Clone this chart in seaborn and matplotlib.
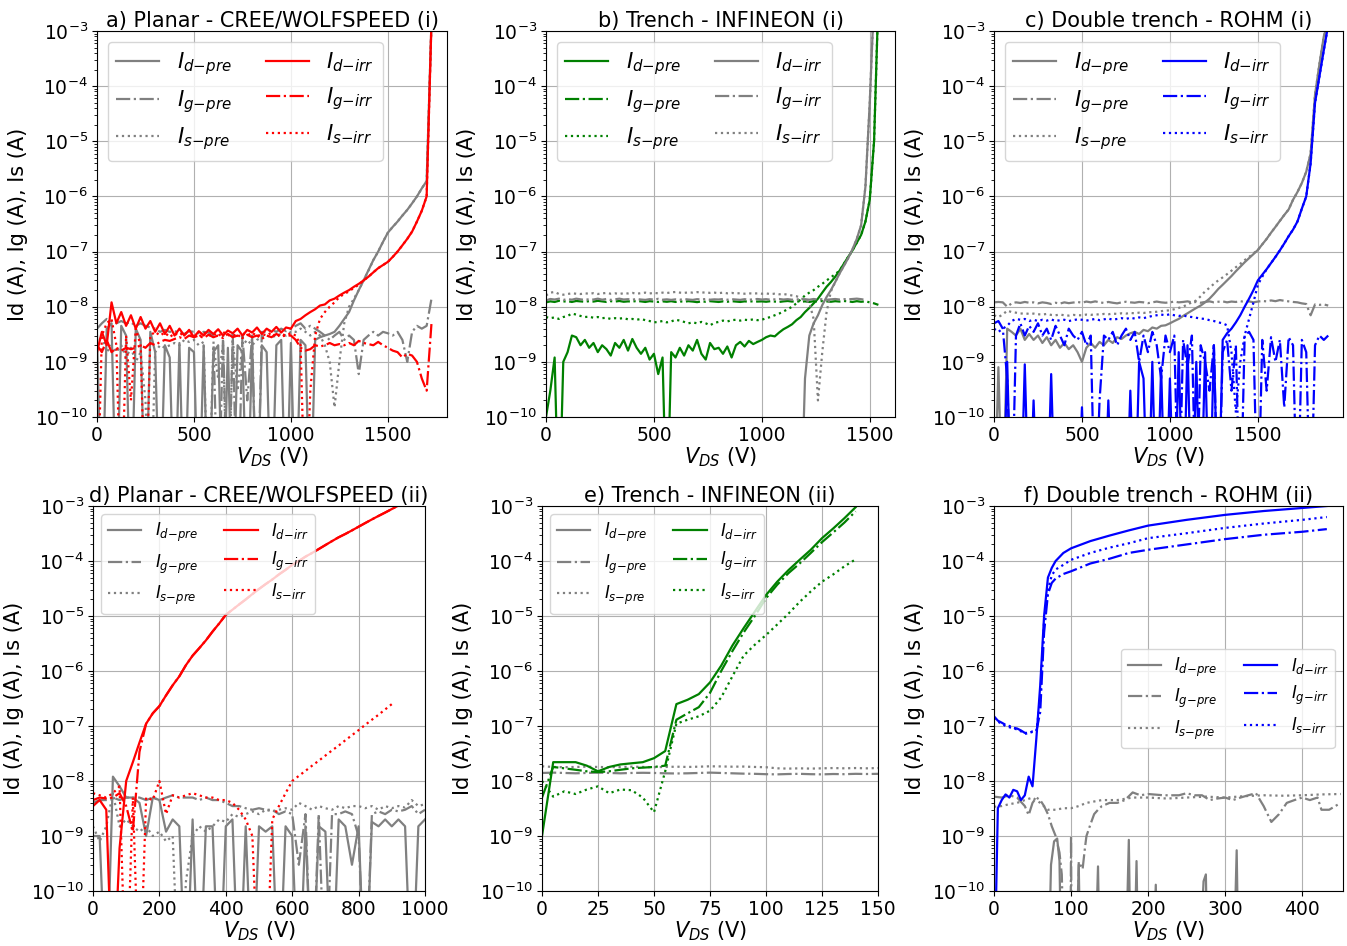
import numpy as np
import matplotlib
matplotlib.use("Agg")
import matplotlib.pyplot as plt
from matplotlib.ticker import FixedLocator, LogLocator, NullFormatter
import seaborn as sns

plt.rcParams["font.family"] = ["DejaVu Sans"]
plt.rcParams["mathtext.fontset"] = "dejavusans"

GRAY, RED, GREEN, BLUE = "#808080", "#ff0000", "#008000", "#0000ff"
LW = 1.6
OFF = 1e-12  # reading below the instrument floor
DECADES = [1e-10, 1e-9, 1e-8, 1e-7, 1e-6, 1e-5, 1e-4, 1e-3]

# ---------------- a) Planar - CREE/WOLFSPEED (i) ----------------
VA = np.arange(0, 1726, 25)
A_ID_PRE = [
    3e-9, OFF, 4e-9, 5e-9, OFF, 4.5e-9, 3e-9, OFF, 4e-9, 2.5e-9,
    OFF, 3.5e-9, 1.5e-9, OFF, 2e-9, 1.2e-9, OFF, 2.2e-9, OFF, 1.8e-9,
    1.5e-9, OFF, 2e-9, OFF, 1.5e-9, 2e-9, OFF, 1.8e-9, OFF, 2e-9,
    1.5e-9, OFF, 2.2e-9, OFF, 2e-9, 1.5e-9, OFF, 2e-9, 2.5e-9, OFF,
    2.2e-9, OFF, 2.5e-9, 2e-9, OFF, 2.5e-9, 2.8e-9, 3e-9, 3.2e-9, 3.5e-9,
    4.5e-9, 6e-9, 8e-9, 1.3e-8, 2e-8, 3e-8, 4.6e-8, 7e-8, 1e-7, 1.5e-7,
    2.2e-7, 2.8e-7, 3.5e-7, 4.5e-7, 5.7e-7, 7.5e-7, 1e-6, 1.4e-6, 1.9e-6, 1.5e-3]
A_IG_PRE = [
    4e-9, 5e-9, 6e-9, 5.5e-9, 5e-9, 5.5e-9, 5e-9, 5.2e-9, 4.5e-9, 5e-9,
    4.5e-9, 4.2e-9, 4e-9, 3.5e-9, 3.8e-9, 3.5e-9, 3.6e-9, 3.4e-9, 3.2e-9, 3.6e-9,
    3.5e-9, 3.3e-9, 3.5e-9, 3.4e-9, 3e-9, OFF, 3e-9, OFF, 3.2e-9, OFF,
    3e-9, 2e-10, 3e-9, OFF, 3.5e-9, 3.4e-9, 3.8e-9, 3.5e-9, 4e-9, 3.6e-9,
    4e-9, 4.5e-9, 5e-9, 4e-9, 4.5e-9, 4e-9, 3.5e-9, 3e-9, 2.5e-9, 3e-9,
    3.5e-9, 2.5e-9, 3e-9, 2.5e-9, 6e-10, 2.5e-9, 3e-9, 3.5e-9, 3e-9, 3.5e-9,
    3.3e-9, 3e-9, 3.5e-9, 2.5e-9, 1e-9, 3.5e-9, 4.5e-9, 4e-9, 4.5e-9, 1.4e-8]
A_IS_PRE = [
    2e-9, 3e-9, 1.5e-9, 2e-9, 1.5e-9, 2e-9, 1.2e-9, 1.8e-9, 1e-9, 1.5e-9,
    2e-10, OFF, 1.5e-9, 2e-9, 1.8e-9, 2e-9, 2.2e-9, 2e-9, 2.5e-9, 2.3e-9,
    2.5e-9, 2e-9, 2.3e-9, OFF, 2e-9, 5e-10, 2e-9, OFF, 2.5e-9, 3e-10,
    2e-9, 2.5e-9, 2e-9, 2.5e-9, 2.8e-9, 3e-9, 2.8e-9, 3e-9, 3.2e-9, 3e-9,
    3.5e-9, 3.5e-9, 4e-9, 3.5e-9, 3e-9, 3.5e-9, 3e-9, 2e-9, 1e-9, 1.5e-10,
    1e-9, 5e-9, 1e-8, 1.4e-8, 2e-8, 3e-8, 4.5e-8, 7e-8, 1e-7, 1.5e-7,
    2.2e-7, 2.8e-7, 3.5e-7, 4.5e-7, 5.7e-7, 7.5e-7, 1e-6, 1.4e-6, 1.9e-6, 1.5e-3]
A_ID_IRR = [
    1.5e-9, 3.5e-9, 2e-9, 1.2e-8, 5e-9, 8e-9, 4.5e-9, 7e-9, 4e-9, 6.5e-9,
    4e-9, 5.5e-9, 3.5e-9, 5e-9, 3.2e-9, 4.5e-9, 3e-9, 4e-9, 3e-9, 3.8e-9,
    2.8e-9, 3.6e-9, 3e-9, 3.8e-9, 3.2e-9, 3.9e-9, 3e-9, 3.7e-9, 3.3e-9, 4e-9,
    3e-9, 3.8e-9, 3.4e-9, 4.2e-9, 3.2e-9, 4e-9, 3.5e-9, 4.3e-9, 3.4e-9, 4.2e-9,
    4e-9, 5.5e-9, 6e-9, 7e-9, 8e-9, 9e-9, 1.05e-8, 1.1e-8, 1.3e-8, 1.4e-8,
    1.6e-8, 1.8e-8, 2e-8, 2.3e-8, 2.6e-8, 3e-8, 3.5e-8, 4.2e-8, 5e-8, 5.7e-8,
    6.5e-8, 8e-8, 1e-7, 1.3e-7, 1.7e-7, 2.3e-7, 3.5e-7, 5.5e-7, 1e-6, 1.5e-3]
A_IG_IRR = [
    2e-9, 1.5e-9, 2.5e-9, 1.5e-9, 1.8e-9, 1.6e-9, 1.8e-9, 1.7e-9, 1.8e-9, 2e-9,
    1.8e-9, 2.2e-9, 2e-9, 2.3e-9, 2.5e-9, 2.4e-9, 2.6e-9, 2.8e-9, 2.6e-9, 3e-9,
    2.8e-9, 3e-9, 2.7e-9, 3.1e-9, 2.8e-9, 3e-9, 2.7e-9, 3.2e-9, 2.8e-9, 3e-9,
    2.7e-9, 3.1e-9, 2.8e-9, 3e-9, 2.6e-9, 3e-9, 2.8e-9, 3.2e-9, 2.9e-9, 3e-9,
    3e-9, 2.5e-9, 1.8e-9, 1.6e-9, 1.7e-9, 2e-9, 1.9e-9, 2e-9, 2.2e-9, 2e-9,
    2.1e-9, 2e-9, 2.2e-9, 2e-9, 2.4e-9, 2.2e-9, 2.1e-9, 2e-9, 2.3e-9, 2e-9,
    1.8e-9, 1.6e-9, 1.5e-9, 1.2e-9, 1.4e-9, 1.3e-9, 1e-9, 5e-10, 3e-10, 5e-9]
A_IS_IRR = [
    OFF, 3e-9, 5e-9, 6e-9, 2e-9, OFF, 3e-9, 2e-10, 4e-9, 2e-9,
    OFF, 3e-9, 3.5e-9, 3e-9, 3.4e-9, 2.8e-9, 3.3e-9, 3e-9, 3.5e-9, 2.9e-9,
    3.2e-9, 2.8e-9, 3.4e-9, 3e-9, 3.3e-9, 2.9e-9, 3.5e-9, 3e-9, 3.2e-9, 2.8e-9,
    3.3e-9, 3e-9, 3.4e-9, 2.9e-9, 3.2e-9, 3e-9, 3.4e-9, 2.8e-9, 3.2e-9, 3e-9,
    3.3e-9, 3e-9, 2e-9, OFF, 3e-10, 3e-9, 6e-9, 8e-9, 1e-8, 1.2e-8,
    1.5e-8, 1.7e-8, 1.9e-8, 2.2e-8, 2.5e-8, 3e-8, 3.5e-8, 4.2e-8, 5e-8, 5.7e-8,
    6.5e-8, 8e-8, 1e-7, 1.3e-7, 1.7e-7, 2.3e-7, 3.5e-7, 5.5e-7, 1e-6, 1.5e-3]

# ---------------- b) Trench - INFINEON (i) ----------------
VB = np.arange(0, 1541, 20)
B_ID_PRE = [
    1e-10, 3e-10, 1.2e-9, OFF, 1e-9, 1.5e-9, 3e-9, 2.8e-9, 2e-9, 2.5e-9,
    1.8e-9, 2.2e-9, 1.5e-9, 2e-9, 1.7e-9, 1.3e-9, 2.2e-9, 1.8e-9, 2.5e-9, 1.6e-9,
    2.6e-9, 1.8e-9, 1.4e-9, 1.8e-9, 1.1e-9, 1.4e-9, 6e-10, 1.2e-9, OFF, 1.5e-9,
    1.2e-9, 1.8e-9, 1.3e-9, 2e-9, 1.6e-9, 2.5e-9, 1.4e-9, 1.1e-9, 2.2e-9, 1.7e-9,
    1.8e-9, 1.4e-9, 1.9e-9, 1.2e-9, 2e-9, 2.3e-9, 1.9e-9, 2.4e-9, 2.1e-9, 2.3e-9,
    2.5e-9, 2.8e-9, 3e-9, 2.9e-9, 3.4e-9, 3.9e-9, 4.3e-9, 4.8e-9, 5.7e-9, 6.5e-9,
    8e-9, 9.5e-9, 1.15e-8, 1.4e-8, 1.8e-8, 2.3e-8, 2.8e-8, 3.5e-8, 4.5e-8, 6e-8,
    8e-8, 1.05e-7, 1.45e-7, 2e-7, 3.5e-7, 8.7e-7, 1e-5, 4e-3]
B_IG_PRE = [
    1.2e-8, 1.25e-8, 1.22e-8, 1.28e-8, 1.24e-8, 1.26e-8, 1.22e-8, 1.27e-8, 1.25e-8, 1.23e-8,
    1.26e-8, 1.24e-8, 1.28e-8, 1.25e-8, 1.22e-8, 1.26e-8, 1.24e-8, 1.27e-8, 1.23e-8, 1.25e-8,
    1.24e-8, 1.27e-8, 1.25e-8, 1.22e-8, 1.26e-8, 1.24e-8, 1.22e-8, 1.25e-8, 1.23e-8, 1.26e-8,
    1.22e-8, 1.25e-8, 1.23e-8, 1.26e-8, 1.24e-8, 1.21e-8, 1.25e-8, 1.23e-8, 1.26e-8, 1.24e-8,
    1.22e-8, 1.25e-8, 1.23e-8, 1.26e-8, 1.24e-8, 1.22e-8, 1.25e-8, 1.23e-8, 1.26e-8, 1.24e-8,
    1.25e-8, 1.23e-8, 1.26e-8, 1.24e-8, 1.22e-8, 1.25e-8, 1.27e-8, 1.24e-8, 1.26e-8, 1.23e-8,
    1.25e-8, 1.22e-8, 1.26e-8, 1.24e-8, 1.27e-8, 1.25e-8, 1.23e-8, 1.26e-8, 1.24e-8, 1.27e-8,
    1.25e-8, 1.22e-8, 1.26e-8, 1.23e-8, 1.25e-8, 1.2e-8, 1.15e-8, 1.08e-8]
B_IS_PRE = [
    6.5e-9, 6.2e-9, 6.4e-9, 6e-9, 6.5e-9, 6.8e-9, 7.5e-9, 7.2e-9, 6.8e-9, 6.5e-9,
    6.6e-9, 6.3e-9, 6.5e-9, 6.2e-9, 6.3e-9, 6e-9, 6.2e-9, 6.1e-9, 6.2e-9, 5.9e-9,
    6e-9, 5.8e-9, 6e-9, 5.7e-9, 5.5e-9, 5.2e-9, 5.3e-9, 5.5e-9, 5.2e-9, 5.4e-9,
    5.8e-9, 5.6e-9, 5.3e-9, 5e-9, 5.2e-9, 5e-9, 5.3e-9, 5e-9, 4.6e-9, 5.1e-9,
    5.3e-9, 5.6e-9, 5.4e-9, 5.7e-9, 5.8e-9, 5.6e-9, 5.8e-9, 5.7e-9, 5.9e-9, 5.7e-9,
    5.8e-9, 6.2e-9, 6.5e-9, 7e-9, 7.5e-9, 8.2e-9, 9e-9, 1e-8, 1.15e-8, 1.35e-8,
    1.6e-8, 1.8e-8, 2e-8, 2.3e-8, 2.6e-8, 3e-8, 3.4e-8, 3.9e-8, 4.5e-8, 6e-8,
    8e-8, 1.05e-7, 1.45e-7, 2e-7, 3.5e-7, 8.7e-7, 1e-5, 4e-3]
B_ID_IRR_V = [0, 1180, 1200, 1220, 1240, 1260, 1280, 1300, 1320, 1340,
              1360, 1380, 1400, 1420, 1440, 1460, 1480, 1500, 1520]
B_ID_IRR = [OFF, OFF, 5e-10, 3e-9, 5e-9, 7e-9, 1.07e-8, 1.5e-8, 2e-8, 2.8e-8,
            4e-8, 5.5e-8, 7.6e-8, 1.1e-7, 1.7e-7, 3e-7, 1.5e-6, 5e-5, 4e-3]
B_IG_IRR = [
    1.3e-8, 1.38e-8, 1.35e-8, 1.4e-8, 1.33e-8, 1.37e-8, 1.34e-8, 1.4e-8, 1.36e-8, 1.33e-8,
    1.37e-8, 1.35e-8, 1.4e-8, 1.34e-8, 1.38e-8, 1.33e-8, 1.36e-8, 1.4e-8, 1.35e-8, 1.37e-8,
    1.34e-8, 1.38e-8, 1.35e-8, 1.33e-8, 1.37e-8, 1.35e-8, 1.39e-8, 1.34e-8, 1.36e-8, 1.33e-8,
    1.36e-8, 1.34e-8, 1.38e-8, 1.35e-8, 1.33e-8, 1.37e-8, 1.35e-8, 1.38e-8, 1.34e-8, 1.36e-8,
    1.35e-8, 1.38e-8, 1.34e-8, 1.37e-8, 1.35e-8, 1.33e-8, 1.37e-8, 1.34e-8, 1.36e-8, 1.38e-8,
    1.35e-8, 1.37e-8, 1.34e-8, 1.36e-8, 1.38e-8, 1.35e-8, 1.37e-8, 1.34e-8, 1.36e-8, 1.35e-8,
    1.37e-8, 1.34e-8, 1.38e-8, 1.35e-8, 1.37e-8, 1.34e-8, 1.36e-8, 1.38e-8, 1.35e-8, 1.37e-8,
    1.36e-8, 1.38e-8, 1.4e-8, 1.37e-8, 1.33e-8]
B_IS_IRR = [
    1.6e-8, 1.8e-8, 1.85e-8, 1.7e-8, 1.65e-8, 1.7e-8, 1.75e-8, 1.72e-8, 1.7e-8, 1.75e-8,
    1.72e-8, 1.76e-8, 1.7e-8, 1.74e-8, 1.78e-8, 1.72e-8, 1.75e-8, 1.7e-8, 1.76e-8, 1.74e-8,
    1.78e-8, 1.72e-8, 1.76e-8, 1.8e-8, 1.74e-8, 1.78e-8, 1.75e-8, 1.8e-8, 1.77e-8, 1.82e-8,
    1.85e-8, 1.8e-8, 1.78e-8, 1.82e-8, 1.8e-8, 1.84e-8, 1.8e-8, 1.82e-8, 1.78e-8, 1.8e-8,
    1.76e-8, 1.8e-8, 1.75e-8, 1.78e-8, 1.74e-8, 1.76e-8, 1.72e-8, 1.75e-8, 1.73e-8, 1.75e-8,
    1.72e-8, 1.74e-8, 1.7e-8, 1.72e-8, 1.68e-8, 1.7e-8, 1.65e-8, 1.6e-8, 1.55e-8, 1.45e-8,
    1.3e-8, 1.2e-8, 6e-9, 2e-10, 1.5e-9, 8e-9, 1.9e-8, 2.8e-8, 4e-8, 5.5e-8,
    7.6e-8, 1.1e-7, 1.7e-7, 3e-7, 1.5e-6, 5e-5, 4e-3]

# ---------------- c) Double trench - ROHM (i) ----------------
VC = np.arange(0, 1901, 25)
C_ID_PRE = [
    OFF, 8e-10, OFF, 4e-9, 3.5e-9, 3e-9, 4e-9, 2.5e-9, 3.2e-9, 2.5e-9,
    3e-9, 2.2e-9, 2.8e-9, 2e-9, 2.5e-9, 1.8e-9, 2.2e-9, 1.7e-9, 2e-9, 1.5e-9,
    1e-9, 1.8e-9, 2.2e-9, 1.8e-9, 2.3e-9, 2e-9, 2.5e-9, 2.2e-9, 2.8e-9, 2.6e-9,
    3e-9, 3.3e-9, 3.5e-9, 3.2e-9, 3.8e-9, 3.6e-9, 4.2e-9, 4e-9, 4.5e-9, 4.6e-9,
    5e-9, 5.5e-9, 6e-9, 6.8e-9, 7.6e-9, 8.5e-9, 9.5e-9, 1.05e-8, 1.2e-8, 1.4e-8,
    1.7e-8, 2.1e-8, 2.5e-8, 3e-8, 3.6e-8, 4.4e-8, 5.3e-8, 6.4e-8, 7.6e-8, 9e-8,
    1.07e-7, 1.35e-7, 1.7e-7, 2.2e-7, 2.8e-7, 3.6e-7, 4.6e-7, 5.8e-7, 8.7e-7, 1.2e-6,
    1.75e-6, 2.8e-6, 6e-6, 7e-5, 2.5e-4, 8e-4, 1.5e-3]
C_IG_PRE = [
    1.2e-8, 1.22e-8, 1.2e-8, 1e-8, 1.15e-8, 1.2e-8, 1.17e-8, 1.22e-8, 1.18e-8, 1.2e-8,
    1.15e-8, 1.2e-8, 1.17e-8, 1.12e-8, 1.18e-8, 1.14e-8, 1.2e-8, 1.16e-8, 1.19e-8, 1.22e-8,
    1.18e-8, 1.24e-8, 1.2e-8, 1.25e-8, 1.2e-8, 1.17e-8, 1.22e-8, 1.18e-8, 1.15e-8, 1.2e-8,
    1.23e-8, 1.2e-8, 1.18e-8, 1.22e-8, 1.2e-8, 1.16e-8, 1.2e-8, 1.24e-8, 1.2e-8, 1.18e-8,
    1.2e-8, 1.24e-8, 1.2e-8, 1.22e-8, 1.25e-8, 1.2e-8, 1.22e-8, 1.18e-8, 1.22e-8, 1.25e-8,
    1.2e-8, 1.23e-8, 1.25e-8, 1.2e-8, 1.24e-8, 1.22e-8, 1.26e-8, 1.22e-8, 1.25e-8, 1.2e-8,
    1.24e-8, 1.27e-8, 1.25e-8, 1.3e-8, 1.26e-8, 1.32e-8, 1.28e-8, 1.25e-8, 1.22e-8, 1.2e-8,
    1.15e-8, 1.12e-8, 7e-9, 1.1e-8, 1.08e-8, 1.1e-8, 1.05e-8]
C_IS_PRE = [
    7e-9, 6.5e-9, 7.2e-9, 8.5e-9, 8e-9, 7.8e-9, 7.5e-9, 7.6e-9, 7.4e-9, 7.5e-9,
    7.3e-9, 7.2e-9, 7.4e-9, 7.1e-9, 7e-9, 7.2e-9, 7e-9, 6.9e-9, 7.1e-9, 7e-9,
    7e-9, 7.2e-9, 7.1e-9, 7.3e-9, 7.2e-9, 7.4e-9, 7.3e-9, 7.5e-9, 7.4e-9, 7.6e-9,
    7.5e-9, 7.7e-9, 7.6e-9, 7.8e-9, 7.7e-9, 7.9e-9, 8e-9, 8.1e-9, 8.3e-9, 8.5e-9,
    8.6e-9, 9e-9, 9.5e-9, 1e-8, 1.1e-8, 1.2e-8, 1.3e-8, 1.55e-8, 1.9e-8, 2.2e-8,
    2.6e-8, 3e-8, 3.4e-8, 3.9e-8, 4.5e-8, 5.2e-8, 6e-8, 7e-8, 8e-8, 9.3e-8,
    1.07e-7, 1.35e-7, 1.7e-7, 2.2e-7, 2.8e-7, 3.6e-7, 4.6e-7, 5.8e-7, 8.7e-7, 1.2e-6,
    1.75e-6, 2.8e-6, 6e-6, 7e-5, 2.5e-4, 8e-4, 1.5e-3]
C_ID_IRR = [
    OFF, OFF, OFF, 1e-9, OFF, OFF, OFF, 9e-10, OFF, 2e-10,
    OFF, OFF, OFF, 6e-10, OFF, OFF, OFF, OFF, OFF, OFF,
    1.5e-10, OFF, OFF, OFF, OFF, OFF, 2e-10, OFF, OFF, OFF,
    OFF, 3e-10, OFF, 1e-9, 5e-10, OFF, 1e-9, OFF, 8e-10, OFF,
    5e-10, OFF, 1.5e-9, OFF, 2e-9, OFF, 1e-9, OFF, 1.5e-9, OFF,
    2e-9, OFF, 2.5e-9, 3.3e-9, 4e-9, 5.2e-9, 7e-9, 1e-8, 1.4e-8, 2e-8,
    3e-8, 3.8e-8, 4.8e-8, 6.2e-8, 8e-8, 1.05e-7, 1.4e-7, 1.9e-7, 2.5e-7, 3.5e-7,
    6e-7, 1e-6, 4e-6, 5e-5, 1.5e-4, 4.5e-4, 1.3e-3]
C_IG_IRR = [
    5e-9, 5.5e-9, 4e-9, 5e-10, OFF, 3e-9, 5e-9, 3e-9, 4.5e-9, 3.5e-9,
    5e-9, 3e-9, 4e-9, 2.5e-9, 4.5e-9, 3e-9, 2e-9, 4e-9, 3e-9, 2.5e-9,
    3.5e-9, 2e-9, 3e-9, OFF, 2e-10, 3e-9, 2.5e-9, 3.5e-9, 2e-9, 3e-9,
    4e-9, 2.5e-9, 3.5e-9, 1e-9, 3e-9, 1.5e-9, 3.5e-9, 2e-9, 5e-10, 3e-9,
    1.5e-9, 3e-9, OFF, 2.5e-9, 8e-10, 3e-9, OFF, 2e-9, 1e-9, 3e-10,
    2e-9, OFF, 1.5e-9, 2.5e-9, 3e-10, 2e-9, OFF, 3e-9, 3.5e-9, 2.5e-9,
    OFF, 2.5e-9, 3e-10, 2.8e-9, 1e-9, 2.5e-9, 1.5e-10, 2.8e-9, 2e-9, OFF,
    2.5e-9, 1.5e-9, OFF, 2e-9, 3e-9, 2.5e-9, 3e-9]
C_IS_IRR = [
    4e-9, 3.5e-9, 4e-9, 4.5e-9, 5.5e-9, 6e-9, 5.8e-9, 6e-9, 5.5e-9, 5.8e-9,
    5.5e-9, 5.8e-9, 5.6e-9, 5.9e-9, 5.5e-9, 5.7e-9, 5.8e-9, 5.5e-9, 5.7e-9, 5.9e-9,
    5.8e-9, 5.6e-9, 5.8e-9, 6e-9, 5.7e-9, 5.9e-9, 6.1e-9, 5.8e-9, 6e-9, 6.2e-9,
    6e-9, 6.3e-9, 6.1e-9, 6.4e-9, 6.2e-9, 6.5e-9, 6.8e-9, 7e-9, 7.2e-9, 7e-9,
    7.3e-9, 7e-9, 6.8e-9, 7e-9, 6.6e-9, 6.5e-9, 6.3e-9, 6.1e-9, 6e-9, 5.7e-9,
    5.5e-9, 5.2e-9, 5e-9, 4.6e-9, 1.5e-9, 1.2e-10, 1e-9, 3e-9, 6e-9, 1.2e-8,
    2.5e-8, 3.5e-8, 4.8e-8, 6.2e-8, 8e-8, 1.05e-7, 1.4e-7, 1.9e-7, 2.5e-7, 3.5e-7,
    6e-7, 1e-6, 4e-6, 5e-5, 1.5e-4, 4.5e-4, 1.3e-3]

# ---------------- d) Planar - CREE/WOLFSPEED (ii) ----------------
VD = np.arange(0, 1001, 20)
D_ID_PRE = [
    1e-9, 1e-9, OFF, 1.2e-8, 8e-9, 5e-9, 5e-9, 4e-9, 1e-9, 5e-9,
    4.5e-9, 1.2e-9, 2e-9, 1.5e-9, OFF, 2e-9, OFF, 1.5e-9, 1.5e-9, OFF,
    1.5e-9, 2e-9, OFF, 1.5e-9, OFF, 1.5e-9, 1.2e-9, 1.5e-9, OFF, 1.5e-9,
    1e-9, OFF, 1.5e-9, OFF, 1.5e-9, 1.2e-9, OFF, 2e-9, 1.5e-9, 3e-10,
    1.5e-9, OFF, 1.8e-9, 1.5e-9, 2e-9, 1.5e-9, 2e-9, 1.5e-9, OFF, 1.5e-9,
    2e-9]
D_IG_PRE = [
    4e-9, 4.5e-9, 4.5e-9, 5e-9, 4.5e-9, 5e-9, 5e-9, 5e-9, 4.5e-9, 5e-9,
    4.5e-9, 5e-9, 5.5e-9, 5e-9, 5e-9, 5e-9, 4.5e-9, 5e-9, 4.5e-9, 4.5e-9,
    4e-9, 3.5e-9, 3.5e-9, 3.2e-9, 3e-9, 3.2e-9, 3e-9, 3e-9, 2.5e-9, 2.8e-9,
    2.5e-9, 3e-10, 2.5e-9, OFF, 2.5e-9, OFF, 2.5e-9, 2.5e-9, 2.8e-9, 2.5e-9,
    1e-9, OFF, 2.5e-9, 2.8e-9, 2.5e-9, 3e-9, 2.8e-9, 3e-9, 3.5e-9, 2.5e-9,
    3e-9]
D_IS_PRE = [
    1.5e-9, 8e-10, 1.5e-9, 6e-9, 1.5e-9, 2e-9, 1.5e-9, 1.2e-9, 1.5e-9, 1e-9,
    1.2e-9, 8e-10, 1e-9, OFF, 1.5e-10, 1e-9, 1.5e-9, 1.2e-9, 1.5e-9, 2e-9,
    1.8e-9, 2.5e-9, 2.2e-9, 2.5e-9, 2.8e-9, 2.5e-9, 3e-9, 2.8e-9, 3e-9, 3.2e-9,
    3e-9, 4e-9, 3.5e-9, 3e-9, 3.5e-9, 3.2e-9, 3e-9, 3.5e-9, 3.2e-9, 3.5e-9,
    3.5e-9, 3.2e-9, 3.5e-9, 3e-9, 3.5e-9, 3.2e-9, 3.5e-9, 3.3e-9, 4.5e-9, 3.5e-9,
    3.8e-9]
D_ID_IRR = [
    3.5e-9, 4.5e-9, 3e-9, OFF, 6e-10, 1e-8, 2.2e-8, 5e-8, 1.1e-7, 1.7e-7,
    2.3e-7, 3.6e-7, 5.5e-7, 8e-7, 1.28e-6, 1.9e-6, 2.6e-6, 3.6e-6, 5.2e-6, 7.3e-6,
    1.05e-5, 1.3e-5, 1.62e-5, 2e-5, 2.5e-5, 3.1e-5, 3.8e-5, 4.6e-5, 5.7e-5, 6.9e-5,
    8.5e-5, 1e-4, 1.2e-4, 1.4e-4, 1.65e-4, 1.95e-4, 2.3e-4, 2.7e-4, 3.1e-4, 3.6e-4,
    4.2e-4, 4.9e-4, 5.7e-4, 6.6e-4, 7.6e-4, 8.8e-4, 1.02e-3]
D_IG_IRR = [
    4.5e-9, 5e-9, 4.8e-9, 5e-9, 6e-9, 3.5e-9, 1.2e-9, 3.4e-8, 1.1e-7, 1.7e-7,
    2.3e-7, 3.6e-7, 5.5e-7, 8e-7, 1.28e-6, 1.9e-6, 2.6e-6, 3.6e-6, 5.2e-6, 7.3e-6,
    1.05e-5, 1.3e-5, 1.62e-5, 2e-5, 2.5e-5, 3.1e-5, 3.8e-5, 4.6e-5, 5.7e-5, 6.9e-5,
    8.5e-5, 1e-4, 1.2e-4, 1.4e-4, 1.65e-4, 1.95e-4, 2.3e-4, 2.7e-4, 3.1e-4, 3.6e-4,
    4.2e-4, 4.9e-4, 5.7e-4, 6.6e-4, 7.6e-4, 8.8e-4, 1.02e-3]
D_IS_IRR = [
    6e-9, 5.5e-9, 5e-9, 6e-9, 8e-9, OFF, 5e-9, OFF, 5e-9, 4.5e-9,
    1e-8, 2.5e-9, 5.5e-9, 5e-9, 5.5e-9, 6e-9, 5.5e-9, 5e-9, 5e-9, 4.5e-9,
    4.5e-9, 4e-9, 3e-9, 2e-9, 1e-9, OFF, OFF, 2e-9, 3.5e-9, 6e-9,
    1e-8, 1.24e-8, 1.53e-8, 1.9e-8, 2.34e-8, 2.9e-8, 3.6e-8, 4.4e-8, 5.5e-8, 6.8e-8,
    8.4e-8, 1.05e-7, 1.3e-7, 1.6e-7, 2e-7, 2.5e-7]

# ---------------- e) Trench - INFINEON (ii) ----------------
VE = np.arange(0, 151, 5)
E_ID_PRE_V = [0, 150]
E_ID_PRE = [OFF, OFF]
E_IG_PRE = [
    1.4e-8, 1.42e-8, 1.4e-8, 1.38e-8, 1.4e-8, 1.42e-8, 1.4e-8, 1.38e-8, 1.4e-8, 1.41e-8,
    1.4e-8, 1.38e-8, 1.37e-8, 1.38e-8, 1.4e-8, 1.42e-8, 1.4e-8, 1.38e-8, 1.36e-8, 1.35e-8,
    1.33e-8, 1.32e-8, 1.34e-8, 1.35e-8, 1.33e-8, 1.32e-8, 1.34e-8, 1.33e-8, 1.35e-8, 1.34e-8,
    1.35e-8]
E_IS_PRE = [
    1.85e-8, 1.8e-8, 1.78e-8, 1.8e-8, 1.82e-8, 1.8e-8, 1.78e-8, 1.8e-8, 1.82e-8, 1.8e-8,
    1.78e-8, 1.8e-8, 1.82e-8, 1.8e-8, 1.82e-8, 1.85e-8, 1.84e-8, 1.82e-8, 1.83e-8, 1.8e-8,
    1.78e-8, 1.7e-8, 1.68e-8, 1.7e-8, 1.68e-8, 1.7e-8, 1.72e-8, 1.7e-8, 1.72e-8, 1.7e-8,
    1.72e-8]
E_ID_IRR = [
    1e-9, 2.2e-8, 2.2e-8, 2.2e-8, 1.9e-8, 1.5e-8, 1.8e-8, 2e-8, 2.1e-8, 2.2e-8,
    2.6e-8, 3.5e-8, 2.5e-7, 3e-7, 3.8e-7, 6.2e-7, 1.25e-6, 2.9e-6, 6e-6, 1.2e-5,
    2.4e-5, 4.2e-5, 6.8e-5, 1.05e-4, 1.6e-4, 2.6e-4, 3.9e-4, 6e-4, 9.5e-4]
E_IG_IRR = [
    5e-9, 1.8e-8, 1.7e-8, 1.6e-8, 1.5e-8, 1.45e-8, 1.5e-8, 1.6e-8, 1.7e-8, 1.75e-8,
    1.8e-8, 1.9e-8, 1.3e-7, 1.7e-7, 2.2e-7, 4e-7, 1e-6, 2.3e-6, 5e-6, 1e-5,
    2.1e-5, 3.7e-5, 6e-5, 9e-5, 1.4e-4, 2.2e-4, 3.3e-4, 5e-4, 8e-4]
E_IS_IRR = [
    1e-8, 5.2e-9, 6.5e-9, 5.8e-9, 7e-9, 8e-9, 6e-9, 7e-9, 6.8e-9, 5e-9,
    2.7e-9, 1.5e-8, 1.1e-7, 1.3e-7, 1.5e-7, 1.9e-7, 3.3e-7, 8e-7, 1.9e-6, 3e-6,
    4.5e-6, 7e-6, 1.1e-5, 1.8e-5, 2.8e-5, 4.2e-5, 5.7e-5, 8e-5, 1.07e-4]

# ---------------- f) Double trench - ROHM (ii) ----------------
F_ID_PRE_V = [0, 70, 74, 78, 82, 85, 88, 105, 110, 113, 130, 135, 138, 170, 175, 178,
              181, 185, 188, 205, 210, 213, 265, 272, 275, 278, 310, 315, 318, 450]
F_ID_PRE = [OFF, OFF, 3e-10, 8e-10, 9e-10, 3.5e-10, OFF, OFF, 3e-10, OFF, OFF, 2.8e-10,
            OFF, OFF, 8.5e-10, OFF, OFF, 3.5e-10, OFF, OFF, 1.3e-10, OFF, OFF, 1.5e-10,
            2e-10, OFF, OFF, 5.5e-10, OFF, OFF]
F_IG_PRE_V = [0, 10, 20, 30, 40, 45, 50, 55, 60, 65, 70, 75, 80, 85, 88, 92, 96, 99, 100,
              101, 104, 108, 110, 112, 115, 118, 120, 125, 130, 135, 140, 150, 160, 170,
              180, 190, 200, 220, 240, 250, 260, 270, 280, 290, 300, 310, 320, 330, 340,
              350, 360, 370, 380, 390, 400, 410, 420, 425, 435, 450]
F_IG_PRE = [5.2e-9, 5e-9, 5.5e-9, 5e-9, 3.5e-9, 2.4e-9, 4e-9, 5e-9, 4.5e-9, 3.5e-9,
            2.5e-9, 1.5e-9, 1e-9, 5e-10, 2e-10, OFF, OFF, OFF, 1e-9, OFF,
            OFF, OFF, 3.4e-10, 3e-10, 2.5e-10, 6e-10, 1e-9, 1.6e-9, 2.5e-9, 3e-9,
            3.5e-9, 4e-9, 4e-9, 4.5e-9, 6.2e-9, 5.5e-9, 5.8e-9, 5.5e-9, 5.5e-9, 6e-9,
            5.5e-9, 5.5e-9, 4.5e-9, 4.8e-9, 5e-9, 4.5e-9, 5e-9, 5.5e-9, 6e-9, 3.5e-9,
            1.8e-9, 2.5e-9, 4e-9, 4.5e-9, 5e-9, 4.5e-9, 5e-9, 3e-9, 3e-9, 4e-9]
F_IS_PRE_V = [0, 10, 20, 30, 40, 50, 60, 70, 80, 90, 100, 110, 120, 140, 160, 180, 200,
              225, 250, 275, 300, 325, 350, 375, 400, 425, 450]
F_IS_PRE = [3.4e-9, 3.5e-9, 3.8e-9, 4e-9, 4.5e-9, 5e-9, 4e-9, 3e-9, 3e-9, 3.2e-9,
            3.2e-9, 3.5e-9, 4e-9, 4.5e-9, 4.5e-9, 5e-9, 5e-9, 4.8e-9, 5e-9, 5.2e-9,
            5e-9, 5.3e-9, 5.5e-9, 5.4e-9, 5.5e-9, 5.7e-9, 5.8e-9]
F_IRR_V = [0, 5, 10, 15, 20, 25, 30, 35, 40, 45, 50, 55, 60, 65, 70, 75, 80, 90, 100,
           125, 150, 175, 200, 250, 300, 350, 400, 432]
F_ID_IRR = [OFF, 3.2e-9, 4.5e-9, 5.7e-9, 5e-9, 6.9e-9, 6.5e-9, 4.5e-9, 5.5e-9, 1.2e-8,
            8e-9, 6e-8, 5.5e-7, 1e-5, 5e-5, 7.5e-5, 1e-4, 1.4e-4, 1.7e-4, 2.3e-4,
            2.9e-4, 3.6e-4, 4.4e-4, 5.6e-4, 6.9e-4, 8.1e-4, 9.2e-4, 1e-3]
F_IG_IRR = [1.5e-7, 1.25e-7, 1.15e-7, 1.05e-7, 1e-7, 9.3e-8, 9e-8, 8.3e-8, 7.5e-8, 7.5e-8,
            7.8e-8, 8e-8, 1.8e-7, 5e-6, 2.5e-5, 4e-5, 4.8e-5, 5.8e-5, 6.5e-5, 9e-5,
            1.1e-4, 1.4e-4, 1.6e-4, 2e-4, 2.5e-4, 3e-4, 3.4e-4, 3.8e-4]
F_IS_IRR = [1.4e-7, 1.2e-7, 1.1e-7, 1e-7, 9.5e-8, 9e-8, 8.7e-8, 8e-8, 7.2e-8, 7.4e-8,
            8e-8, 8e-8, 3e-7, 8e-6, 3e-5, 5.5e-5, 7e-5, 8.5e-5, 1.05e-4, 1.4e-4,
            1.75e-4, 2.1e-4, 2.6e-4, 3.2e-4, 4e-4, 4.8e-4, 5.6e-4, 6.3e-4]

LABELS = [r"$I_{d{-}pre}$", r"$I_{g{-}pre}$", r"$I_{s{-}pre}$",
          r"$I_{d{-}irr}$", r"$I_{g{-}irr}$", r"$I_{s{-}irr}$"]
STYLES = ["-", "-.", ":"]


def trace(ax, v, i, color, ls, label):
    v = np.asarray(v, dtype=float)[: len(i)]
    sns.lineplot(x=v, y=np.asarray(i, dtype=float), ax=ax, color=color,
                 linestyle=ls, linewidth=LW, label=label, estimator=None,
                 sort=False)


TOP_LEG = dict(loc="upper left", fontsize=15.5, columnspacing=1.6)
BOT_LEG = dict(loc="upper left", fontsize=12, columnspacing=1.6)

PANELS = [
    dict(rect=[97, 31, 350, 386], title="a) Planar - CREE/WOLFSPEED (i)",
         xlim=(0, 1805), xticks=[0, 500, 1000, 1500],
         pre=GRAY, irr=RED,
         series=[(VA, A_ID_PRE), (VA, A_IG_PRE), (VA, A_IS_PRE),
                 (VA, A_ID_IRR), (VA, A_IG_IRR), (VA, A_IS_IRR)],
         leg=TOP_LEG),
    dict(rect=[546, 31, 349, 386], title="b) Trench - INFINEON (i)",
         xlim=(0, 1617), xticks=[0, 500, 1000, 1500],
         pre=GREEN, irr=GRAY,
         series=[(VB, B_ID_PRE), (VB, B_IG_PRE), (VB, B_IS_PRE),
                 (B_ID_IRR_V, B_ID_IRR), (VB, B_IG_IRR), (VB, B_IS_IRR)],
         leg=TOP_LEG),
    dict(rect=[994, 31, 349, 386], title="c) Double trench - ROHM (i)",
         xlim=(0, 1984), xticks=[0, 500, 1000, 1500],
         pre=GRAY, irr=BLUE,
         series=[(VC, C_ID_PRE), (VC, C_IG_PRE), (VC, C_IS_PRE),
                 (VC, C_ID_IRR), (VC, C_IG_IRR), (VC, C_IS_IRR)],
         leg=TOP_LEG),
    dict(rect=[93, 506, 332, 385], title="d) Planar - CREE/WOLFSPEED (ii)",
         xlim=(0, 1000), xticks=list(range(0, 1001, 200)),
         pre=GRAY, irr=RED,
         series=[(VD, D_ID_PRE), (VD, D_IG_PRE), (VD, D_IS_PRE),
                 (VD, D_ID_IRR), (VD, D_IG_IRR), (VD, D_IS_IRR)],
         leg=BOT_LEG),
    dict(rect=[542, 506, 336, 385], title="e) Trench - INFINEON (ii)",
         xlim=(0, 150), xticks=list(range(0, 151, 25)),
         pre=GRAY, irr=GREEN,
         series=[(E_ID_PRE_V, E_ID_PRE), (VE, E_IG_PRE), (VE, E_IS_PRE),
                 (VE, E_ID_IRR), (VE, E_IG_IRR), (VE, E_IS_IRR)],
         leg=BOT_LEG),
    dict(rect=[994, 506, 349, 385], title="f) Double trench - ROHM (ii)",
         xlim=(0, 453), xticks=[0, 100, 200, 300, 400],
         pre=GRAY, irr=BLUE,
         series=[(F_ID_PRE_V, F_ID_PRE), (F_IG_PRE_V, F_IG_PRE), (F_IS_PRE_V, F_IS_PRE),
                 (F_IRR_V, F_ID_IRR), (F_IRR_V, F_IG_IRR), (F_IRR_V, F_IS_IRR)],
         leg=dict(BOT_LEG, loc="center right")),
]

W, H = 1347, 946
fig = plt.figure(figsize=(W / 100, H / 100), dpi=100)

for p in PANELS:
    x0, y0, w, h = p["rect"]
    ax = fig.add_axes([x0 / W, 1 - (y0 + h) / H, w / W, h / H])
    ax.set_yscale("log")
    for k, (v, i) in enumerate(p["series"]):
        color = p["pre"] if k < 3 else p["irr"]
        trace(ax, v, i, color, STYLES[k % 3], LABELS[k])
    ax.set_ylim(DECADES[0], DECADES[-1])
    ax.set_xlim(*p["xlim"])
    ax.set_xticks(p["xticks"])
    ax.yaxis.set_major_locator(FixedLocator(DECADES))
    ax.yaxis.set_minor_locator(LogLocator(base=10, subs=np.arange(2, 10), numticks=100))
    ax.yaxis.set_minor_formatter(NullFormatter())
    ax.grid(True, which="major", color="#b0b0b0", linewidth=0.8)
    ax.tick_params(axis="both", which="major", labelsize=13.5, pad=3)
    ax.set_title(p["title"], fontsize=15, pad=3)
    ax.set_xlabel(r"$V_{DS}$ (V)", fontsize=15, labelpad=0)
    ax.set_ylabel("Id (A), Ig (A), Is (A)", fontsize=15, labelpad=5)
    handles, labels = ax.get_legend_handles_labels()
    ax.legend(handles, labels, ncol=2, **p["leg"])

fig.savefig("out.png", dpi=100)
